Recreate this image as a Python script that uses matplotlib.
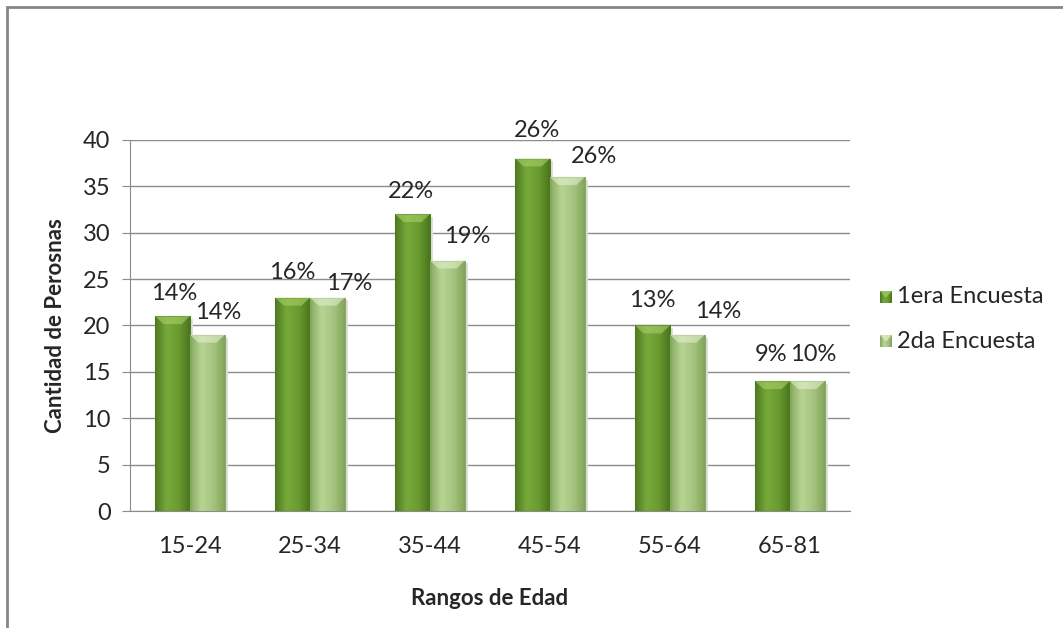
import numpy as np
import matplotlib
matplotlib.use('Agg')
import matplotlib.pyplot as plt
from matplotlib.colors import LinearSegmentedColormap
from matplotlib.patches import Rectangle, Polygon

plt.rcParams['font.family'] = ['Lato', 'DejaVu Sans']

# data
rangos = ['15-24', '25-34', '35-44', '45-54', '55-64', '65-81']
encuesta1 = [21, 23, 32, 38, 20, 14]
encuesta2 = [19, 23, 27, 36, 19, 14]
pct1 = ['14%', '16%', '22%', '26%', '13%', '9%']
pct2 = ['14%', '17%', '19%', '26%', '14%', '10%']
series_names = ['1era Encuesta', '2da Encuesta']

# label nudges (points) to follow the hand-placed labels of the original
off1 = [(1, 16), (0, 18), (-1, 16), (3, 20), (0, 18), (-1, 19)]
off2 = [(8, 16), (16, 10), (14, 17), (19, 15), (22, 17), (4, 19)]

dark_cols = ['#4d7a1f', '#76a83a', '#6b9c30', '#4a761c']
light_cols = ['#86a960', '#b9d495', '#a6c47f', '#84a65c']
TXT = '#262626'
FS = 17


def gradient_bar(ax, x0, w, h, cols, top_col):
    cmap = LinearSegmentedColormap.from_list('g', cols)
    grad = np.linspace(0, 1, 64).reshape(1, -1)
    im = ax.imshow(grad, cmap=cmap, extent=(x0, x0 + w, 0, h),
                   aspect='auto', zorder=3, interpolation='bilinear')
    rect = Rectangle((x0, 0), w, h, fill=False, lw=0.8,
                     edgecolor=cols[0], zorder=4)
    ax.add_patch(rect)
    im.set_clip_path(rect)
    # shadow on the right side
    ax.add_patch(Rectangle((x0 + w, 0), 0.025, h - 0.3, color='#dedede',
                           zorder=2, lw=0))
    # bevel at the top
    dx = 0.07
    dy = 0.85
    bevel = Polygon([(x0, h), (x0 + w, h), (x0 + w - dx, h - dy),
                     (x0 + dx, h - dy)], closed=True, facecolor=top_col,
                    edgecolor='none', zorder=4, alpha=0.6)
    ax.add_patch(bevel)


fig = plt.figure(figsize=(10.63, 6.28), dpi=100)
ax = fig.add_axes([0.1223, 0.1863, 0.6773, 0.5908])

w = 0.29
x = np.arange(len(rangos))
for i in range(len(rangos)):
    gradient_bar(ax, x[i] - w, w, encuesta1[i], dark_cols, '#a8d06a')
    gradient_bar(ax, x[i], w, encuesta2[i], light_cols, '#e2f0cc')
    ax.annotate(pct1[i], (x[i] - w / 2, encuesta1[i]), xytext=off1[i],
                textcoords='offset points', ha='center', va='center',
                fontsize=FS, color=TXT)
    ax.annotate(pct2[i], (x[i] + w / 2, encuesta2[i]), xytext=off2[i],
                textcoords='offset points', ha='center', va='center',
                fontsize=FS, color=TXT)

ax.set_xlim(-0.5, len(rangos) - 0.5)
ax.set_ylim(0, 40)
ax.set_yticks(range(0, 41, 5))
ax.set_xticks(x)
ax.set_xticklabels(rangos)
ax.yaxis.grid(True, color='#8c8c8c', lw=1)
ax.set_axisbelow(True)
for s in ['top', 'right']:
    ax.spines[s].set_visible(False)
ax.spines['left'].set_color('#8c8c8c')
ax.spines['bottom'].set_color('#8c8c8c')
ax.tick_params(axis='y', length=6, color='#8c8c8c', labelsize=FS,
               labelcolor=TXT, pad=8)
ax.tick_params(axis='x', length=0, labelsize=FS, labelcolor=TXT, pad=18)

ax.set_ylabel('Cantidad de Perosnas', fontsize=16, fontweight='bold',
              color=TXT, labelpad=12)
ax.set_xlabel('Rangos de Edad', fontsize=16, fontweight='bold',
              color=TXT, labelpad=22)

# legend
for k, (name, cols, top) in enumerate(zip(series_names, [dark_cols, light_cols],
                                          ['#a8d06a', '#e2f0cc'])):
    yf = 1 - (297 + 44 * k) / 628
    lax = fig.add_axes([880 / 1063, yf - 6 / 628, 12 / 1063, 12 / 628])
    lax.imshow(np.linspace(0, 1, 16).reshape(1, -1),
               cmap=LinearSegmentedColormap.from_list('l', cols),
               aspect='auto', extent=(0, 1, 0, 1))
    lax.add_patch(Polygon([(0, 1), (1, 1), (0.5, 0.45)], facecolor=top,
                          edgecolor='none', alpha=0.7))
    lax.set_axis_off()
    fig.text(897 / 1063, yf, name, fontsize=FS, color=TXT,
             va='center', ha='left')

# chart frame (cut off at the right and bottom in the original)
fig.add_artist(Rectangle((6.5 / 1063, -0.05), 1.2, 1 - 6.5 / 628 + 0.05,
                         transform=fig.transFigure, fill=False,
                         edgecolor='#868686', lw=2))

fig.savefig('out.png', dpi=100)
